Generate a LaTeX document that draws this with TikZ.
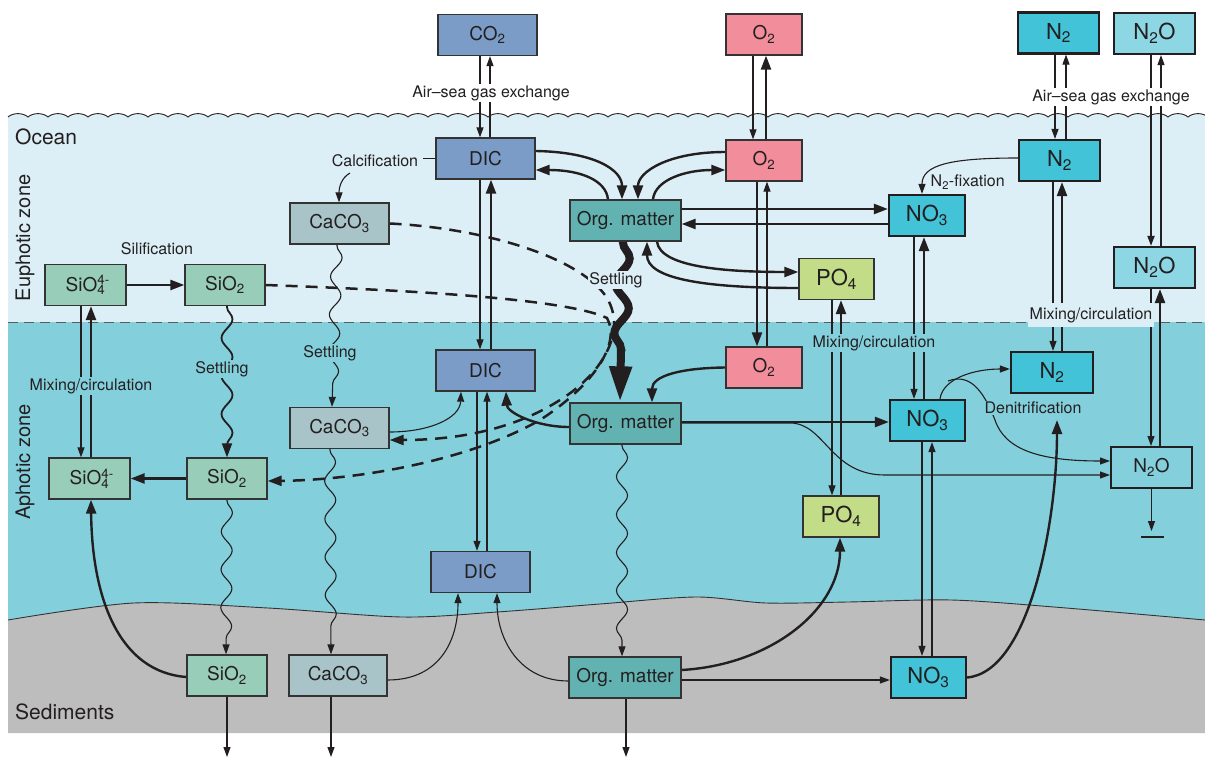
\documentclass[tikz,border=0pt]{standalone}
\usepackage{fontspec}
\setmainfont{TeX Gyre Heros}
\usetikzlibrary{arrows.meta,decorations.pathmorphing,calc}
\definecolor{ink}{HTML}{231F20}
\definecolor{boxln}{HTML}{333333}
\definecolor{euph}{HTML}{DCEFF6}
\definecolor{aph}{HTML}{83D0DC}
\definecolor{sedc}{HTML}{BDBDBD}
\definecolor{cblue}{HTML}{7A9CC6}
\definecolor{cpink}{HTML}{F28E9C}
\definecolor{corg}{HTML}{62B2B1}
\definecolor{ccyan}{HTML}{42C3D8}
\definecolor{cntwo}{HTML}{8DD6E4}
\definecolor{cpo}{HTML}{C2DC88}
\definecolor{ccaco}{HTML}{A8C4C8}
\definecolor{csio}{HTML}{98CDBA}
\newcommand\supsub[2]{\rlap{\textsuperscript{#1}}\textsubscript{#2}}
\pgfdeclarelayer{bglayer}
\pgfdeclarelayer{linelayer}
\pgfsetlayers{bglayer,linelayer,main}
\begin{document}
\begin{tikzpicture}[x=1pt,y=-1pt,
  box/.style={draw=boxln,line width=1.3pt,inner sep=0pt,minimum height=41pt,text=ink,font=\fontsize{19}{22}\selectfont},
  boxm/.style={box,font=\fontsize{22}{25}\selectfont},
  boxb/.style={box,draw=ink,line width=2.2pt,font=\fontsize{22}{25}\selectfont},
  lbl/.style={font=\fontsize{16}{19}\selectfont,text=ink,inner sep=1.5pt},
  zone/.style={font=\fontsize{21}{25}\selectfont,text=ink,inner sep=0pt},
  thn/.style={draw=ink,line width=1.1pt},
  med/.style={draw=ink,line width=1.8pt},
  thk/.style={draw=ink,line width=2.4pt},
  ta/.style={-{Triangle[length=10pt,width=7pt]}},
  tb/.style={-{Triangle[length=14pt,width=10pt]}},
  dsh/.style={draw=ink,line width=2.5pt,dash pattern=on 12pt off 8pt},
  wav/.style={decorate,decoration={snake,amplitude=5.5pt,segment length=38pt,post length=10pt,pre length=1pt}},
  hugewav/.style={draw=ink,line width=8pt,decorate,decoration={snake,amplitude=7pt,segment length=50pt,post length=34pt,pre length=1pt},-{Triangle[length=36pt,width=21pt]}},
]
\useasboundingbox (0,0) rectangle (1205,757);
\begin{pgfonlayer}{bglayer}
\clip (0,0) rectangle (1205,757);
\fill[white] (0,0) rectangle (1205,757);
\fill[euph] (8,322) -- (8,117) \foreach \i in {0,...,59} { .. controls ({8+20*\i+5},112.5) and ({8+20*\i+15},112.5) .. ({28+20*\i},117) } -- (1205,117) -- (1205,322) -- cycle;
\draw[ink,line width=0.9pt] (8,117) \foreach \i in {0,...,59} { .. controls ({8+20*\i+5},112.5) and ({8+20*\i+15},112.5) .. ({28+20*\i},117) };
\fill[aph] (8,322) rectangle (1205,640);
\fill[sedc] plot[smooth] coordinates {(8,620) (134,603) (268,608) (402,617) (497,612) (600,604) (696,597) (766,603) (848,602) (951,600) (1054,607) (1205,620)} -- (1205,733) -- (8,733) -- cycle;
\draw[boxln,line width=0.9pt] plot[smooth] coordinates {(8,620) (134,603) (268,608) (402,617) (497,612) (600,604) (696,597) (766,603) (848,602) (951,600) (1054,607) (1205,620)};
\draw[boxln!80,line width=1pt,dash pattern=on 10pt off 6pt] (8,322) -- (1205,322);
\end{pgfonlayer}

% zone labels
\node[zone,anchor=west] (tocean) at (15,137) {Ocean};
\node[zone,rotate=90,font=\fontsize{20}{24}\selectfont] (teuph) at (25,238) {Euphotic zone};
\node[zone,rotate=90,font=\fontsize{20}{24}\selectfont] (taph) at (25,462) {Aphotic zone};
\node[zone,anchor=west] (tsed) at (15,712) {Sediments};

% boxes: air
\node[box,fill=cblue,minimum width=99pt] (co2) at (487.5,35) {CO\textsubscript{2}};
\node[box,fill=cpink,minimum width=76pt] (o2air) at (764,34.5) {O\textsubscript{2}};
\node[boxb,fill=ccyan,minimum width=81pt] (n2air) at (1058.5,33) {N\textsubscript{2}};
\node[boxb,fill=cntwo,minimum width=81pt] (n2oair) at (1154.5,33.5) {N\textsubscript{2}O};
% euphotic
\node[box,fill=cblue,minimum width=99pt] (dic1) at (485.5,158.5) {DIC};
\node[box,fill=cpink,minimum width=76pt] (o21) at (764,160.5) {O\textsubscript{2}};
\node[box,fill=corg,minimum width=111pt] (org1) at (625.5,220.5) {Org. matter};
\node[boxb,fill=ccyan,minimum width=81pt] (n21) at (1059.5,160.5) {N\textsubscript{2}};
\node[boxb,fill=ccyan,minimum width=76pt] (no31) at (927,215.5) {NO\textsubscript{3}};
\node[boxm,fill=cpo,minimum width=75pt] (po41) at (836.5,279) {PO\textsubscript{4}};
\node[boxb,fill=cntwo,minimum width=81pt] (n2o1) at (1154.5,267.5) {N\textsubscript{2}O};
\node[box,fill=ccaco,minimum width=99pt] (caco31) at (339.5,223.5) {CaCO\textsubscript{3}};
\node[box,fill=csio,minimum width=81pt] (sio41) at (85.5,285) {SiO\supsub{4-}{4}};
\node[box,fill=csio,minimum width=80pt] (sio21) at (225,285) {SiO\textsubscript{2}};
% aphotic
\node[box,fill=cblue,minimum width=99pt] (dic2) at (485.5,370.5) {DIC};
\node[box,fill=cpink,minimum width=76pt] (o22) at (764,367.5) {O\textsubscript{2}};
\node[box,fill=corg,minimum width=111pt] (org2) at (625.5,423.5) {Org. matter};
\node[box,fill=cblue,minimum width=99pt] (dic3) at (480.5,572) {DIC};
\node[box,fill=ccaco,minimum width=99pt] (caco32) at (339.5,428) {CaCO\textsubscript{3}};
\node[box,fill=csio,minimum width=81pt] (sio42) at (89.5,478.5) {SiO\supsub{4-}{4}};
\node[box,fill=csio,minimum width=80pt] (sio22) at (227,478.5) {SiO\textsubscript{2}};
\node[boxm,fill=cpo,minimum width=76pt] (po42) at (841,516.5) {PO\textsubscript{4}};
\node[boxb,fill=ccyan,minimum width=75pt] (no32) at (927.5,420.5) {NO\textsubscript{3}};
\node[boxb,fill=ccyan,minimum width=82pt] (n22) at (1052,372.5) {N\textsubscript{2}};
\node[box,draw=ink,line width=2pt,fill=aph,minimum width=81pt] (n2o2) at (1151.5,467.5) {N\textsubscript{2}O};
% sediments
\node[box,fill=csio,minimum width=80pt] (sio2s) at (227,675.5) {SiO\textsubscript{2}};
\node[box,fill=ccaco,minimum width=98pt] (caco3s) at (338,675.5) {CaCO\textsubscript{3}};
\node[box,fill=corg,minimum width=112pt] (orgs) at (625,677.5) {Org. matter};
\node[boxb,fill=ccyan,minimum width=75pt] (no3s) at (928.5,677.5) {NO\textsubscript{3}};

% free-end coordinates
\coordinate (calcA) at (350,173);
\coordinate (dnA) at (948,381);
\coordinate (dnB) at (1057,420);
\coordinate (gndA) at (1141,537);
\coordinate (gndB) at (1164,537);

\begin{pgfonlayer}{linelayer}
% air-sea exchange
\draw[thn,ta] (480,0 |- co2.south) -- (480,0 |- dic1.north);
\draw[thn,ta] (490,0 |- dic1.north) -- (490,0 |- co2.south);
\draw[thn,ta] (753,0 |- o2air.south) -- (753,0 |- o21.north);
\draw[thk,tb] (766,0 |- o21.north) -- (766,0 |- o2air.south);
\draw[thn,ta] (1055,0 |- n2air.south) -- (1055,0 |- n21.north);
\draw[thn,ta] (1066,0 |- n21.north) -- (1066,0 |- n2air.south);
\draw[med,ta] (1151,0 |- n2oair.south) -- (1151,0 |- n2o1.north);
\draw[thn,ta] (1161,0 |- n2o1.north) -- (1161,0 |- n2oair.south);
% mixing / circulation
\draw[thn,ta] (81,0 |- sio41.south) -- (81,0 |- sio42.north);
\draw[thk,tb] (91,0 |- sio42.north) -- (91,0 |- sio41.south);
\draw[thn,ta] (480,0 |- dic1.south) -- (480,0 |- dic2.north);
\draw[thk,tb] (491,0 |- dic2.north) -- (491,0 |- dic1.south);
\draw[thn,ta] (477,0 |- dic2.south) -- (477,0 |- dic3.north);
\draw[thn,ta] (487,0 |- dic3.north) -- (487,0 |- dic2.south);
\draw[thk,tb] (757,0 |- o21.south) -- (757,0 |- o22.north);
\draw[thn,ta] (767,0 |- o22.north) -- (767,0 |- o21.south);
\draw[thn,ta] (832,0 |- po41.south) -- (832,0 |- po42.north);
\draw[thk,tb] (841,0 |- po42.north) -- (841,0 |- po41.south);
\draw[thn,ta] (914,0 |- no31.south) -- (914,0 |- no32.north);
\draw[thk,tb] (924,0 |- no32.north) -- (924,0 |- no31.south);
\draw[thn,ta] (922,0 |- no32.south) -- (922,0 |- no3s.north);
\draw[thn,ta] (932,0 |- no3s.north) -- (932,0 |- no32.south);
\draw[thn,ta] (1053,0 |- n21.south) -- (1053,0 |- n22.north);
\draw[thk,tb] (1062,0 |- n22.north) -- (1062,0 |- n21.south);
\draw[thn,ta] (1151,0 |- n2o1.south) -- (1151,0 |- n2o2.north);
\draw[thk,tb] (1160,0 |- n2o2.north) -- (1160,0 |- n2o1.south);
% burial / sinks
\draw[thn,ta] (n2o2.south) -- (n2o2.south |- 0,531);
\draw[thn] (gndA) -- (gndB);
\draw[thn,ta] (227,0 |- sio2s.south) -- (227,757);
\draw[thn,ta] (331,0 |- caco3s.south) -- (331,757);
\draw[thn,ta] (626,0 |- orgs.south) -- (626,757);
% straight horizontal
\draw[thk,tb] (sio41.east) -- (sio21.west);
\draw[thk,tb] (sio22.west) -- (sio42.east);
\draw[thk,tb] (org1.east |- 0,209) -- (no31.west |- 0,209);
\draw[thk,tb] (no31.west |- 0,224) -- (org1.east |- 0,224);
\draw[thk,tb] (org2.east |- 0,422) -- (no32.west |- 0,422);
\draw[thn,ta] (orgs.east |- 0,680) -- (no3s.west |- 0,680);
% euphotic curves
\draw[thk,tb] (dic1.east |- 0,151) .. controls (595,152) and (622,170) .. (622,0 |- org1.north);
\draw[thk,tb] (608,0 |- org1.north) .. controls (606,180) and (580,170) .. (dic1.east |- 0,170);
\draw[thk,tb] (o21.west |- 0,152) .. controls (668,152) and (638,172) .. (638,0 |- org1.north);
\draw[thk,tb] (653,0 |- org1.north) .. controls (655,180) and (685,170) .. (o21.west |- 0,170);
\draw[thk,tb] (657,0 |- org1.south) .. controls (660,268) and (730,272) .. (po41.west |- 0,272);
\draw[thk,tb] (po41.west |- 0,288) .. controls (700,288) and (647,278) .. (647,0 |- org1.south);
\draw[thn,ta] (n21.west |- 0,158) .. controls (950,158) and (922,165) .. (922,0 |- no31.north);
\draw[thn] (dic1.west) -- (423,0 |- dic1.west);
\draw[thn,ta] (calcA) .. controls (341,178) and (339,188) .. (339,0 |- caco31.north);
% aphotic curves
\draw[thk,tb] (o22.west) .. controls (680,368) and (652,376) .. (652,0 |- org2.north);
\draw[thk,tb] (org2.west |- 0,427) .. controls (535,427) and (507,412) .. (506,0 |- dic2.south);
\draw[thn,ta] (caco32.east |- 0,432) .. controls (430,432) and (460,418) .. (461,0 |- dic2.south);
\draw[thn,ta] (org2.east |- 0,423) -- (790,423) .. controls (825,423) and (830,475) .. (885,475) -- (n2o2.west |- 0,475);
\draw[thn,ta] (940,0 |- no32.north) .. controls (943,378) and (975,369) .. (n22.west |- 0,369);
\draw[thn,ta] (dnA) .. controls (972,372) and (985,395) .. (995,420) .. controls (1005,450) and (1040,461) .. (n2o2.west |- 0,461);
\draw[thk,tb] (no3s.east) .. controls (1030,672) and (1057,520) .. (dnB);
% sediment curves
\draw[thk,tb] (sio2s.west |- 0,677) .. controls (120,672) and (92,600) .. (91,0 |- sio42.south);
\draw[thn,ta] (caco3s.east |- 0,680) .. controls (440,680) and (458,640) .. (458,0 |- dic3.south);
\draw[thn,ta] (orgs.west |- 0,681) .. controls (520,681) and (497,640) .. (497,0 |- dic3.south);
\draw[thk,tb] (orgs.east |- 0,670) .. controls (770,665) and (840,610) .. (840,0 |- po42.south);
% dissolution (dashed)
\draw[dsh,tb] (caco31.east) .. controls (480,228) and (575,255) .. (605,295) .. controls (628,328) and (605,372) .. (560,400) .. controls (510,432) and (450,440) .. (caco32.east |- 0,440);
\draw[dsh,tb] (sio21.east) .. controls (400,290) and (565,298) .. (607,318) .. controls (622,345) and (590,388) .. (540,420) .. controls (470,460) and (360,480) .. (sio22.east |- 0,481);
% settling
\draw[thn,wav,ta] (337,0 |- caco31.south) -- (332,0 |- caco32.north);
\draw[thn,wav,ta] (330,0 |- caco32.south) -- (331,0 |- caco3s.north);
\draw[med,wav,tb] (227,0 |- sio21.south) -- (227,0 |- sio22.north);
\draw[thn,wav,ta] (227,0 |- sio22.south) -- (226,0 |- sio2s.north);
\draw[hugewav] (623,0 |- org1.south) -- (620,0 |- org2.north);
\draw[thn,wav,ta] (622,0 |- org2.south) -- (622,0 |- orgs.north);
\end{pgfonlayer}

% labels
\node[lbl,fill=white] (lasg1) at (491,93) {Air--sea gas exchange};
\node[lbl,fill=white] (lasg2) at (1111,97) {Air--sea gas exchange};
\node[lbl] (lcalc) at (375,161) {Calcification};
\node[lbl] (lsil) at (157,249) {Silification};
\node[lbl,fill=euph] (lset1) at (616,280) {Settling};
\node[lbl,fill=aph] (lset2) at (330,353) {Settling};
\node[lbl,fill=aph] (lset3) at (222,369) {Settling};
\node[lbl,fill=aph] (lmix1) at (91,386) {Mixing/circulation};
\node[lbl,fill=aph] (lmix2) at (874,343) {Mixing/circulation};
\node[lbl,fill=euph,inner ysep=4pt] (lmix3) at (1091,315) {Mixing/circulation};
\node[lbl,fill=aph] (ldenit) at (1033,408) {Denitrification};
\node[lbl,anchor=west] (lfix) at (929,182) {N\textsubscript{2}-fixation};
\end{tikzpicture}
\end{document}
